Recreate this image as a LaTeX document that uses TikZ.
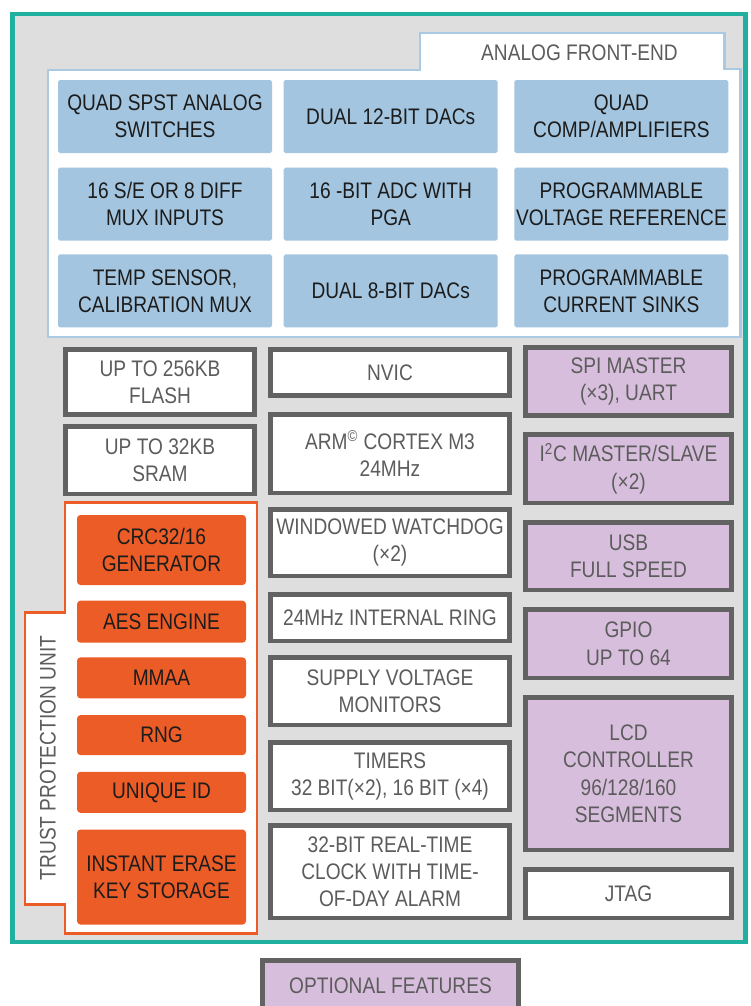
\documentclass[tikz,border=0pt]{standalone}
\usepackage{fontspec}
\setmainfont{Liberation Sans}[FakeStretch=0.85]
\usepackage{tikz}
\usetikzlibrary{positioning}
\usepackage{xcolor}
\definecolor{mcTeal}{RGB}{32, 176, 160}
\definecolor{mcBack}{RGB}{222, 222, 222}
\definecolor{mcBlue}{RGB}{163, 197, 223}
\definecolor{mcBlueLine}{RGB}{170, 202, 228}
\definecolor{mcFrame}{RGB}{98, 98, 98}
\definecolor{mcLilac}{RGB}{216, 190, 221}
\definecolor{mcOrange}{RGB}{236, 92, 38}
\definecolor{mcGreyText}{RGB}{92, 92, 92}
\definecolor{mcDarkText}{RGB}{28, 28, 28}

\begin{document}
\begin{tikzpicture}[
    afebox/.style={
        rectangle,
        rounded corners=1pt,
        minimum width=4.28cm,
        minimum height=1.46cm,
        inner sep=0pt,
        align=center,
        font=\fontsize{12.8}{15.5}\selectfont,
        fill=mcBlue,
        text=mcDarkText
    },
    corebox/.style={
        rectangle,
        minimum width=4.79cm,
        inner sep=0pt,
        align=center,
        font=\fontsize{12.8}{15.5}\selectfont,
        draw=mcFrame,
        fill=white,
        text=mcGreyText,
        line width=2.6pt
    },
    membox/.style={
        corebox,
        minimum width=3.79cm
    },
    periphbox/.style={
        corebox,
        minimum width=4.13cm,
        fill=mcLilac
    },
    tpubox/.style={
        rectangle,
        rounded corners=2pt,
        minimum width=3.38cm,
        inner sep=0pt,
        align=center,
        font=\fontsize{12.8}{15.5}\selectfont,
        fill=mcOrange,
        text=mcDarkText
    },
    caption/.style={
        font=\fontsize{12.8}{15.5}\selectfont,
        text=mcGreyText
    }
]

\useasboundingbox (0,0) rectangle (15,-20.12);

% Chip outline
\draw[mcTeal, line width=2.3pt, fill=mcBack] (0.25,-0.28) rectangle (14.91,-18.84);

% Analog front-end frame with tab
\draw[mcBlueLine, line width=1.7pt, fill=white]
    (0.96,-1.40) -- (8.40,-1.40) -- (8.40,-0.66) -- (14.48,-0.66) -- (14.48,-1.38)
    -- (14.80,-1.38) -- (14.80,-6.74) -- (0.96,-6.74) -- cycle;
\node[caption] (afe) at (11.59,-1.06) {ANALOG FRONT-END};

\node[afebox] (switches) at (3.30,-2.33) {QUAD SPST ANALOG\\SWITCHES};
\node[afebox, right=0.22cm of switches] (dac12) {DUAL 12-BIT DACs};
\node[afebox, right=0.32cm of dac12] (comp) {QUAD\\COMP/AMPLIFIERS};

\node[afebox, below=0.28cm of switches] (mux) {16 S/E OR 8 DIFF\\MUX INPUTS};
\node[afebox, below=0.28cm of dac12] (adc) {16 -BIT ADC WITH\\PGA};
\node[afebox, below=0.28cm of comp] (vref) {PROGRAMMABLE\\VOLTAGE REFERENCE};

\node[afebox, below=0.26cm of mux] (temp) {TEMP SENSOR,\\CALIBRATION MUX};
\node[afebox, below=0.26cm of adc] (dac8) {DUAL 8-BIT DACs};
\node[afebox, below=0.26cm of vref] (sinks) {PROGRAMMABLE\\CURRENT SINKS};

% Left column - memories
\node[membox, minimum height=1.31cm] (flash) at (3.20,-7.64) {UP TO 256KB\\FLASH};
\node[membox, minimum height=1.35cm, below=0.14cm of flash] (sram) {UP TO 32KB\\SRAM};

% Trust protection unit
\draw[mcOrange, line width=1.7pt, fill=white]
    (1.30,-10.04) -- (5.14,-10.04) -- (5.14,-18.66) -- (1.30,-18.66) -- (1.30,-18.08)
    -- (0.50,-18.08) -- (0.50,-12.24) -- (1.30,-12.24) -- cycle;
\node[caption, rotate=90] (tpu) at (0.96,-15.16) {TRUST PROTECTION UNIT};

\node[tpubox, minimum height=1.40cm] (crc) at (3.23,-11.00) {CRC32/16\\GENERATOR};
\node[tpubox, minimum height=0.84cm, below=0.30cm of crc] (aes) {AES ENGINE};
\node[tpubox, minimum height=0.82cm, below=0.28cm of aes] (mmaa) {MMAA};
\node[tpubox, minimum height=0.80cm, below=0.32cm of mmaa] (rng) {RNG};
\node[tpubox, minimum height=0.82cm, below=0.32cm of rng] (uid) {UNIQUE ID};
\node[tpubox, minimum height=1.90cm, below=0.32cm of uid] (erase) {INSTANT ERASE\\KEY STORAGE};

% Middle column - core
\node[corebox, minimum height=0.93cm] (nvic) at (7.80,-7.45) {NVIC};
\node[corebox, minimum height=1.57cm, below=0.28cm of nvic] (cpu) {ARM\textsuperscript{\textcopyright} CORTEX M3\\24MHz};
\node[corebox, minimum height=1.33cm, below=0.24cm of cpu] (wdog) {WINDOWED WATCHDOG\\(×2)};
\node[corebox, minimum height=0.93cm, below=0.28cm of wdog] (ring) {24MHz INTERNAL RING};
\node[corebox, minimum height=1.35cm, below=0.24cm of ring] (supply) {SUPPLY VOLTAGE\\MONITORS};
\node[corebox, minimum height=1.35cm, below=0.26cm of supply] (timers) {TIMERS\\32 BIT(×2), 16 BIT (×4)};
\node[corebox, minimum height=1.85cm, below=0.22cm of timers] (rtc) {32-BIT REAL-TIME\\CLOCK WITH TIME-\\OF-DAY ALARM};

% Right column - peripherals
\node[periphbox, minimum height=1.37cm] (spi) at (12.57,-7.63) {SPI MASTER\\(×3), UART};
\node[periphbox, minimum height=1.37cm, below=0.28cm of spi] (i2c) {I\textsuperscript{2}C MASTER/SLAVE\\(×2)};
\node[periphbox, minimum height=1.35cm, below=0.30cm of i2c] (usb) {USB\\FULL SPEED};
\node[periphbox, minimum height=1.37cm, below=0.30cm of usb] (gpio) {GPIO\\UP TO 64};
\node[periphbox, minimum height=3.05cm, below=0.30cm of gpio] (lcd) {LCD\\CONTROLLER\\96/128/160\\SEGMENTS};
\node[corebox, minimum width=4.13cm, minimum height=0.97cm, below=0.30cm of lcd] (jtag) {JTAG};

% Legend
\node[periphbox, minimum width=5.13cm, minimum height=1.00cm, anchor=north] (optional) at (7.81,-19.16) {OPTIONAL FEATURES};

\end{tikzpicture}
\end{document}
